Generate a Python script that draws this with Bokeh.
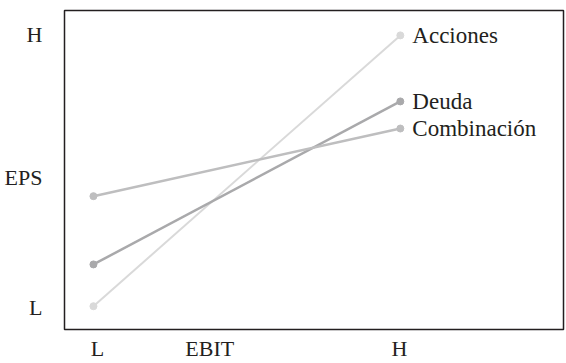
from bokeh.plotting import figure
from bokeh.models import FixedTicker, Range1d
from bokeh.core.properties import value
from bokeh.embed import file_html
from bokeh.resources import INLINE

series = ["Acciones", "Deuda", "Combinación"]
x_start = 5.8
x_end = 67.3
y_start = [7.3, 20.4, 41.8]
y_end = [92.2, 71.5, 63.0]
colors = ["#d9d9d9", "#a9a9ab", "#bebebf"]
widths = [2, 2.5, 2.5]

x_ticks = [6.6, 29.1, 67.1]
x_tick_labels = ["L", "EBIT", "H"]
y_ticks = [7.0, 47.5, 92.5]
y_tick_labels = ["L", "EPS", "H"]

FONT = "Liberation Serif"
TXT = "#231f20"

p = figure(width=566, height=363, output_backend="svg", toolbar_location=None,
           x_range=Range1d(0, 100), y_range=Range1d(0, 100))
p.min_border_left = 64
p.min_border_right = 3
p.min_border_top = 10
p.min_border_bottom = 32
p.xgrid.visible = False
p.ygrid.visible = False
p.outline_line_color = "#231f20"
p.outline_line_width = 1.5
p.background_fill_color = "white"
p.border_fill_color = "white"

for ax, ticks, labels, standoff in ((p.xaxis, x_ticks, x_tick_labels, 0),
                                    (p.yaxis, y_ticks, y_tick_labels, 16)):
    ax.ticker = FixedTicker(ticks=ticks)
    ax.major_label_overrides = {t: l for t, l in zip(ticks, labels)}
    ax.axis_line_color = None
    ax.major_tick_line_color = None
    ax.minor_tick_line_color = None
    ax.major_label_text_font = FONT
    ax.major_label_text_font_size = "22px"
    ax.major_label_text_color = TXT
    ax.major_label_standoff = standoff

for name, y0, y1, c, w in zip(series, y_start, y_end, colors, widths):
    p.line([x_start, x_end], [y0, y1], line_color=c, line_width=w)
    p.scatter([x_start, x_end], [y0, y1], size=7, fill_color=c, line_color=c)
    p.text([x_end], [y1], text=[name], x_offset=12, text_baseline="middle",
           text_align="left", text_font=value(FONT), text_font_size="23px",
           text_color=TXT)

open("out.html", "w").write(file_html(p, INLINE))
